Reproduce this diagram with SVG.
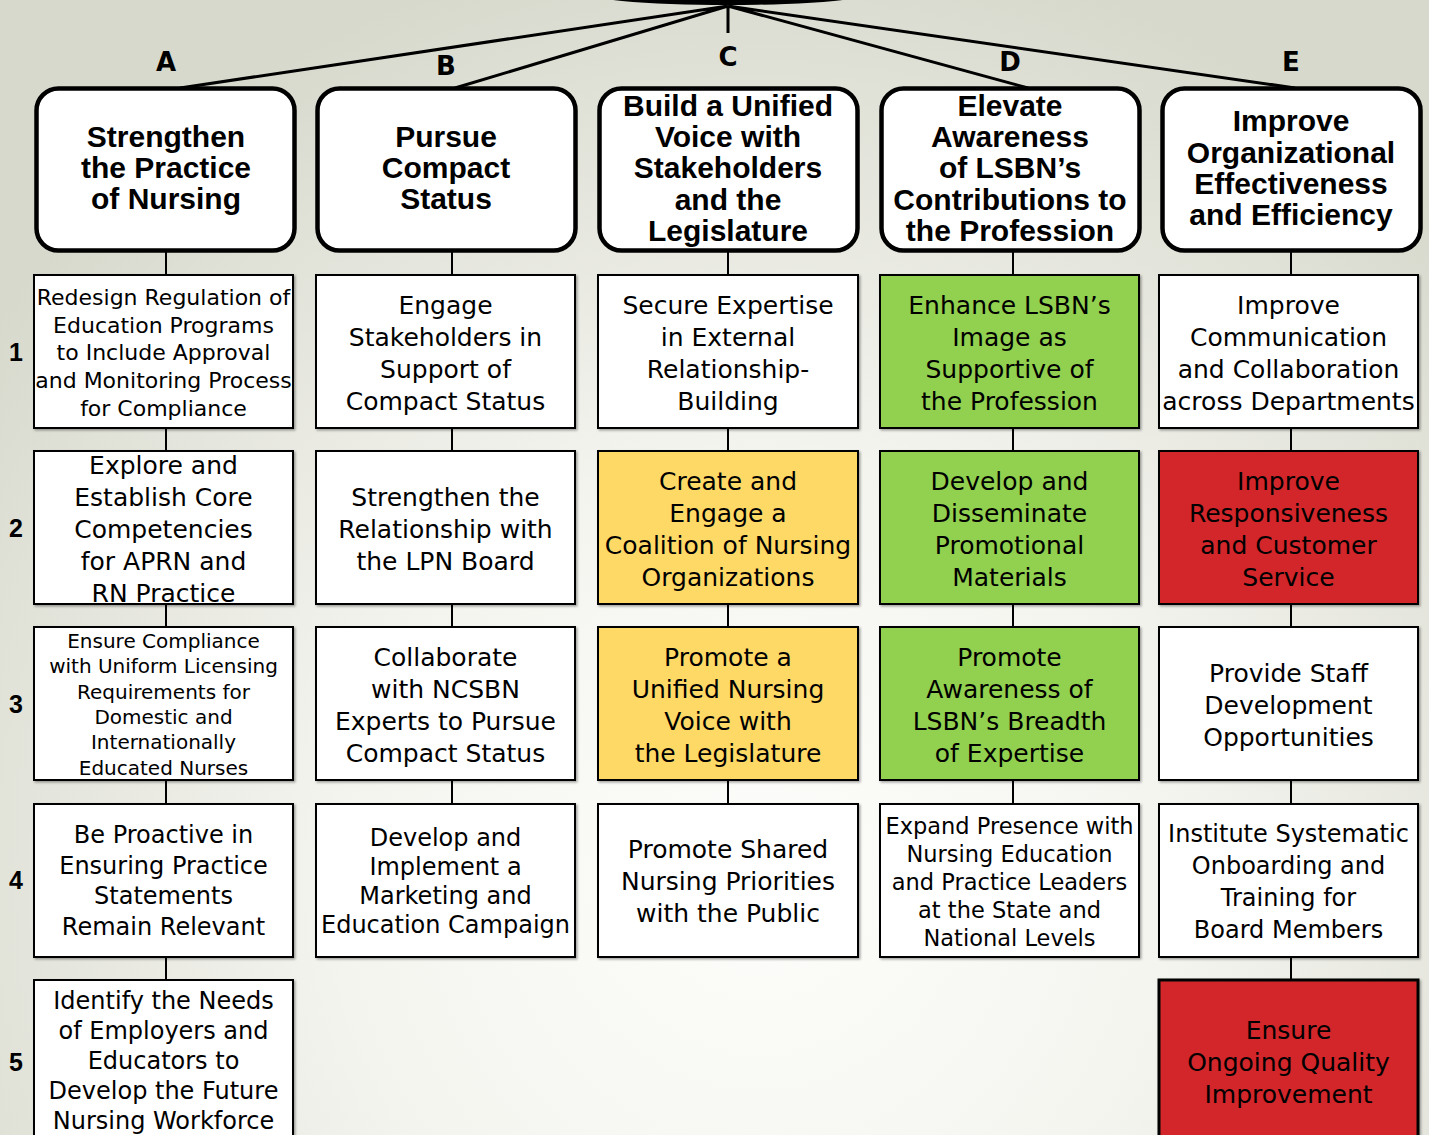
<svg xmlns="http://www.w3.org/2000/svg" width="1429" height="1135" viewBox="0 0 1429 1135">
<defs>
<radialGradient id="bg" gradientUnits="userSpaceOnUse" cx="760" cy="880" r="950">
<stop offset="0" stop-color="#fdfdfb"/>
<stop offset="0.45" stop-color="#f4f4ef"/>
<stop offset="1" stop-color="#d8d9cd"/>
</radialGradient>
<filter id="sh" x="-5%" y="-5%" width="110%" height="110%">
<feDropShadow dx="1.5" dy="1.5" stdDeviation="1" flood-color="#000" flood-opacity="0.35"/>
</filter>
<style>
.hdbox{fill:#fff;stroke:#000;stroke-width:4.5}
.box{stroke:#000;stroke-width:2;filter:url(#sh)}
.w{fill:#fff}.g{fill:#92d050}.y{fill:#ffd966}.r{fill:#d2252c}
.hd{font-family:"Liberation Sans",Arial,sans-serif;font-weight:bold;font-size:30px;text-anchor:middle;fill:#000}
.t{font-family:"DejaVu Sans",sans-serif;font-size:25px;text-anchor:middle;fill:#000}
.let{font-family:"DejaVu Sans",sans-serif;font-weight:bold;font-size:26px;text-anchor:middle;fill:#000}
.num{font-family:"Liberation Sans",Arial,sans-serif;font-weight:bold;font-size:25px;text-anchor:middle;fill:#000}
.top{stroke:#000;stroke-width:3;fill:none}
.conn{stroke:#000;stroke-width:2;fill:none}
</style>
</defs>
<rect width="1429" height="1135" fill="url(#bg)"/>

<g id="root">
<ellipse cx="728" cy="-9" rx="150" ry="14" fill="#000"/>
</g>

<g id="connectors">
<path class="top" d="M728 6 L180 88 M728 6 L455 88 M728 6 L728 33 M728 6 L1028 88 M728 6 L1295 88"/>
<path class="conn" d="M166 252V275M166 428V451M166 604V627M166 780V804M166 957V980"/>
<path class="conn" d="M452 252V275M452 428V451M452 604V627M452 780V804"/>
<path class="conn" d="M728 252V275M728 428V451M728 604V627M728 780V804"/>
<path class="conn" d="M1013 252V275M1013 428V451M1013 604V627M1013 780V804"/>
<path class="conn" d="M1291 252V275M1291 428V451M1291 604V627M1291 780V804M1291 957V980"/>
</g>

<g id="letters">
<text class="let" x="166" y="71">A</text>
<text class="let" x="446" y="75">B</text>
<text class="let" x="728" y="66">C</text>
<text class="let" x="1010" y="71">D</text>
<text class="let" x="1291" y="71">E</text>
</g>

<g id="rownums">
<text class="num" x="16" y="361">1</text>
<text class="num" x="16" y="537">2</text>
<text class="num" x="16" y="713">3</text>
<text class="num" x="16" y="889">4</text>
<text class="num" x="16" y="1071">5</text>
</g>

<g id="hA">
<rect class="hdbox" x="36.5" y="88.5" width="258" height="162" rx="22"/>
<text class="hd"><tspan x="166" y="147">Strengthen</tspan><tspan x="166" y="178">the Practice</tspan><tspan x="166" y="209">of Nursing</tspan></text>
</g>
<g id="hB">
<rect class="hdbox" x="317.5" y="88.5" width="258" height="162" rx="22"/>
<text class="hd"><tspan x="446" y="147">Pursue</tspan><tspan x="446" y="178">Compact</tspan><tspan x="446" y="209">Status</tspan></text>
</g>
<g id="hC">
<rect class="hdbox" x="599.5" y="88.5" width="258" height="162" rx="22"/>
<text class="hd"><tspan x="728" y="116">Build a Unified</tspan><tspan x="728" y="147">Voice with</tspan><tspan x="728" y="178">Stakeholders</tspan><tspan x="728" y="210">and the</tspan><tspan x="728" y="241">Legislature</tspan></text>
</g>
<g id="hD">
<rect class="hdbox" x="881.5" y="88.5" width="258" height="162" rx="22"/>
<text class="hd"><tspan x="1010" y="116">Elevate</tspan><tspan x="1010" y="147">Awareness</tspan><tspan x="1010" y="178">of LSBN’s</tspan><tspan x="1010" y="210">Contributions to</tspan><tspan x="1010" y="241">the Profession</tspan></text>
</g>
<g id="hE">
<rect class="hdbox" x="1162.5" y="88.5" width="258" height="162" rx="22"/>
<text class="hd"><tspan x="1291" y="131">Improve</tspan><tspan x="1291" y="163">Organizational</tspan><tspan x="1291" y="194">Effectiveness</tspan><tspan x="1291" y="225">and Efficiency</tspan></text>
</g>

<!-- Row 1 -->
<g id="A1">
<rect class="box w" x="34" y="275" width="259" height="153"/>
<text class="t" style="font-size:22px"><tspan x="163.5" y="305">Redesign Regulation of</tspan><tspan x="163.5" y="333">Education Programs</tspan><tspan x="163.5" y="360">to Include Approval</tspan><tspan x="163.5" y="388">and Monitoring Process</tspan><tspan x="163.5" y="416">for Compliance</tspan></text>
</g>
<g id="B1">
<rect class="box w" x="316" y="275" width="259" height="153"/>
<text class="t"><tspan x="445.5" y="314">Engage</tspan><tspan x="445.5" y="346">Stakeholders in</tspan><tspan x="445.5" y="378">Support of</tspan><tspan x="445.5" y="410">Compact Status</tspan></text>
</g>
<g id="C1">
<rect class="box w" x="598" y="275" width="260" height="153"/>
<text class="t"><tspan x="728" y="314">Secure Expertise</tspan><tspan x="728" y="346">in External</tspan><tspan x="728" y="378">Relationship-</tspan><tspan x="728" y="410">Building</tspan></text>
</g>
<g id="D1">
<rect class="box g" x="880" y="275" width="259" height="153"/>
<text class="t"><tspan x="1009.5" y="314">Enhance LSBN’s</tspan><tspan x="1009.5" y="346">Image as</tspan><tspan x="1009.5" y="378">Supportive of</tspan><tspan x="1009.5" y="410">the Profession</tspan></text>
</g>
<g id="E1">
<rect class="box w" x="1159" y="275" width="259" height="153"/>
<text class="t"><tspan x="1288.5" y="314">Improve</tspan><tspan x="1288.5" y="346">Communication</tspan><tspan x="1288.5" y="378">and Collaboration</tspan><tspan x="1288.5" y="410">across Departments</tspan></text>
</g>

<!-- Row 2 -->
<g id="A2">
<rect class="box w" x="34" y="451" width="259" height="153"/>
<text class="t"><tspan x="163.5" y="474">Explore and</tspan><tspan x="163.5" y="506">Establish Core</tspan><tspan x="163.5" y="538">Competencies</tspan><tspan x="163.5" y="570">for APRN and</tspan><tspan x="163.5" y="602">RN Practice</tspan></text>
</g>
<g id="B2">
<rect class="box w" x="316" y="451" width="259" height="153"/>
<text class="t"><tspan x="445.5" y="506">Strengthen the</tspan><tspan x="445.5" y="538">Relationship with</tspan><tspan x="445.5" y="570">the LPN Board</tspan></text>
</g>
<g id="C2">
<rect class="box y" x="598" y="451" width="260" height="153"/>
<text class="t"><tspan x="728" y="490">Create and</tspan><tspan x="728" y="522">Engage a</tspan><tspan x="728" y="554">Coalition of Nursing</tspan><tspan x="728" y="586">Organizations</tspan></text>
</g>
<g id="D2">
<rect class="box g" x="880" y="451" width="259" height="153"/>
<text class="t"><tspan x="1009.5" y="490">Develop and</tspan><tspan x="1009.5" y="522">Disseminate</tspan><tspan x="1009.5" y="554">Promotional</tspan><tspan x="1009.5" y="586">Materials</tspan></text>
</g>
<g id="E2">
<rect class="box r" x="1159" y="451" width="259" height="153"/>
<text class="t"><tspan x="1288.5" y="490">Improve</tspan><tspan x="1288.5" y="522">Responsiveness</tspan><tspan x="1288.5" y="554">and Customer</tspan><tspan x="1288.5" y="586">Service</tspan></text>
</g>

<!-- Row 3 -->
<g id="A3">
<rect class="box w" x="34" y="627" width="259" height="153"/>
<text class="t" style="font-size:20px"><tspan x="163.5" y="648">Ensure Compliance</tspan><tspan x="163.5" y="673">with Uniform Licensing</tspan><tspan x="163.5" y="699">Requirements for</tspan><tspan x="163.5" y="724">Domestic and</tspan><tspan x="163.5" y="749">Internationally</tspan><tspan x="163.5" y="775">Educated Nurses</tspan></text>
</g>
<g id="B3">
<rect class="box w" x="316" y="627" width="259" height="153"/>
<text class="t"><tspan x="445.5" y="666">Collaborate</tspan><tspan x="445.5" y="698">with NCSBN</tspan><tspan x="445.5" y="730">Experts to Pursue</tspan><tspan x="445.5" y="762">Compact Status</tspan></text>
</g>
<g id="C3">
<rect class="box y" x="598" y="627" width="260" height="153"/>
<text class="t"><tspan x="728" y="666">Promote a</tspan><tspan x="728" y="698">Unified Nursing</tspan><tspan x="728" y="730">Voice with</tspan><tspan x="728" y="762">the Legislature</tspan></text>
</g>
<g id="D3">
<rect class="box g" x="880" y="627" width="259" height="153"/>
<text class="t"><tspan x="1009.5" y="666">Promote</tspan><tspan x="1009.5" y="698">Awareness of</tspan><tspan x="1009.5" y="730">LSBN’s Breadth</tspan><tspan x="1009.5" y="762">of Expertise</tspan></text>
</g>
<g id="E3">
<rect class="box w" x="1159" y="627" width="259" height="153"/>
<text class="t"><tspan x="1288.5" y="682">Provide Staff</tspan><tspan x="1288.5" y="714">Development</tspan><tspan x="1288.5" y="746">Opportunities</tspan></text>
</g>

<!-- Row 4 -->
<g id="A4">
<rect class="box w" x="34" y="804" width="259" height="153"/>
<text class="t" style="font-size:24px"><tspan x="163.5" y="843">Be Proactive in</tspan><tspan x="163.5" y="874">Ensuring Practice</tspan><tspan x="163.5" y="904">Statements</tspan><tspan x="163.5" y="935">Remain Relevant</tspan></text>
</g>
<g id="B4">
<rect class="box w" x="316" y="804" width="259" height="153"/>
<text class="t" style="font-size:24px"><tspan x="445.5" y="846">Develop and</tspan><tspan x="445.5" y="875">Implement a</tspan><tspan x="445.5" y="904">Marketing and</tspan><tspan x="445.5" y="933">Education Campaign</tspan></text>
</g>
<g id="C4">
<rect class="box w" x="598" y="804" width="260" height="153"/>
<text class="t"><tspan x="728" y="858">Promote Shared</tspan><tspan x="728" y="890">Nursing Priorities</tspan><tspan x="728" y="922">with the Public</tspan></text>
</g>
<g id="D4">
<rect class="box w" x="880" y="804" width="259" height="153"/>
<text class="t" style="font-size:22.5px"><tspan x="1009.5" y="834">Expand Presence with</tspan><tspan x="1009.5" y="862">Nursing Education</tspan><tspan x="1009.5" y="890">and Practice Leaders</tspan><tspan x="1009.5" y="918">at the State and</tspan><tspan x="1009.5" y="946">National Levels</tspan></text>
</g>
<g id="E4">
<rect class="box w" x="1159" y="804" width="259" height="153"/>
<text class="t" style="font-size:24px"><tspan x="1288.5" y="842">Institute Systematic</tspan><tspan x="1288.5" y="874">Onboarding and</tspan><tspan x="1288.5" y="906">Training for</tspan><tspan x="1288.5" y="938">Board Members</tspan></text>
</g>

<!-- Row 5 -->
<g id="A5">
<rect class="box w" x="34" y="980" width="259" height="165"/>
<text class="t" style="font-size:24px"><tspan x="163.5" y="1009">Identify the Needs</tspan><tspan x="163.5" y="1039">of Employers and</tspan><tspan x="163.5" y="1069">Educators to</tspan><tspan x="163.5" y="1099">Develop the Future</tspan><tspan x="163.5" y="1129">Nursing Workforce</tspan></text>
</g>
<g id="E5">
<rect class="box r" x="1159" y="980" width="259" height="165" style="stroke-width:3"/>
<text class="t"><tspan x="1288.5" y="1039">Ensure</tspan><tspan x="1288.5" y="1071">Ongoing Quality</tspan><tspan x="1288.5" y="1103">Improvement</tspan></text>
</g>
</svg>
